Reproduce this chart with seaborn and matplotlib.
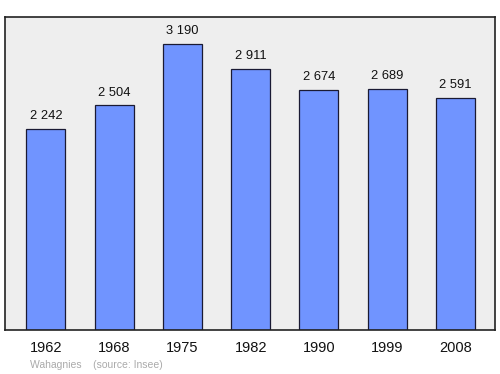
import matplotlib
matplotlib.use("Agg")
import matplotlib.pyplot as plt
import seaborn as sns
import pandas as pd

years = ["1962", "1968", "1975", "1982", "1990", "1999", "2008"]
population = [2242, 2504, 3190, 2911, 2674, 2689, 2591]
labels = ["2 242", "2 504", "3 190", "2 911", "2 674", "2 689", "2 591"]

sns.set_theme(style="white")
plt.rcParams['font.family'] = ['Liberation Sans', 'DejaVu Sans']

df = pd.DataFrame({"year": years, "pop": population})

fig = plt.figure(figsize=(5, 3.74), dpi=100)
ax = fig.add_axes([5/500, 1 - 330/374, 490/500, 313/374])
ax.set_facecolor("#eeeeee")
sns.barplot(data=df, x="year", y="pop", ax=ax, color="#7094ff", saturation=1,
            width=0.57, edgecolor="#1a1a33", linewidth=0.9)
ax.set_xlim(-0.6, 6.58)
ax.set_ylim(0, 3490)
for i, (v, lab) in enumerate(zip(population, labels)):
    ax.text(i, v + 75, lab, ha="center", va="bottom", fontsize=9.3, color="#111111")
for s in ax.spines.values():
    s.set_color("#222222")
    s.set_linewidth(1.2)
ax.set_yticks([])
ax.set_xlabel("")
ax.set_ylabel("")
ax.tick_params(axis="x", length=0, pad=8, labelsize=10.5, colors="#111111")
fig.text(30/500, 1 - 365/374, "Wahagnies    (source: Insee)", fontsize=7.5,
         color="#aaaaaa", ha="left", va="center")
fig.savefig("out.png", dpi=100)
